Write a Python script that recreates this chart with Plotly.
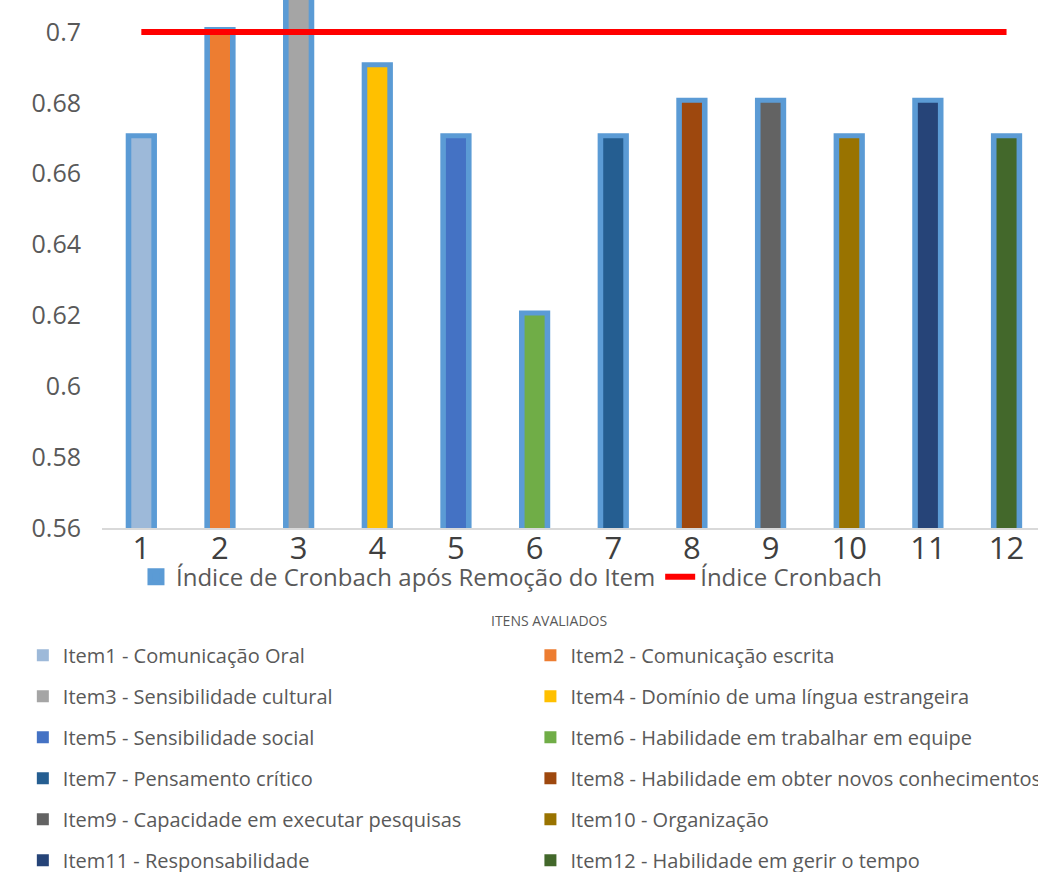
import plotly.graph_objects as go

# Cronbach's alpha recomputed after removing each item
item_numbers = [1, 2, 3, 4, 5, 6, 7, 8, 9, 10, 11, 12]
alpha_without_item = [0.67, 0.70, 0.71, 0.69, 0.67, 0.62, 0.67, 0.68, 0.68, 0.67, 0.68, 0.67]
alpha_overall = 0.70

item_names = [
    "Item1 - Comunicação Oral",
    "Item2 - Comunicação escrita",
    "Item3 - Sensibilidade cultural",
    "Item4 - Domínio de uma língua estrangeira",
    "Item5 - Sensibilidade social",
    "Item6 - Habilidade em trabalhar em equipe",
    "Item7 - Pensamento crítico",
    "Item8 - Habilidade em obter novos conhecimentos",
    "Item9 - Capacidade em executar pesquisas",
    "Item10 - Organização",
    "Item11 - Responsabilidade",
    "Item12 - Habilidade em gerir o tempo",
]
item_colors = [
    "#9DB9D9", "#ED7D31", "#A5A5A5", "#FFC000", "#4472C4", "#70AD47",
    "#255E91", "#9E480E", "#636363", "#997300", "#264478", "#43682B",
]

y_ticks = [0.56, 0.58, 0.60, 0.62, 0.64, 0.66, 0.68, 0.70]
y_tick_text = ["0.56", "0.58", "0.6", "0.62", "0.64", "0.66", "0.68", "0.7"]

FONT = "Open Sans"
OUTER = "#5B9BD5"

fig = go.Figure()

# blue framing bar for every item
fig.add_trace(go.Bar(
    x=item_numbers, y=alpha_without_item,
    name="Índice de Cronbach após Remoção do Item",
    marker=dict(color=OUTER, line=dict(color=OUTER, width=10)),
    width=0.27, legend="legend",
))

# coloured core bar for every item (two legend columns: odd / even items)
for i, (xv, yv, nm, col) in enumerate(zip(item_numbers, alpha_without_item, item_names, item_colors)):
    fig.add_trace(go.Bar(
        x=[xv], y=[yv], name=nm,
        marker=dict(color=col, line=dict(width=0)),
        width=0.255,
        legend="legend2" if i % 2 == 0 else "legend3",
        legendgroup=nm,
    ))

# overall Cronbach reference line
fig.add_trace(go.Scatter(
    x=item_numbers, y=[alpha_overall] * len(item_numbers),
    mode="lines", name="Índice Cronbach",
    line=dict(color="#FF0000", width=6),
    legend="legend",
))

fig.update_layout(
    width=1038, height=872,
    margin=dict(l=102, r=0, t=0, b=344, autoexpand=False),
    paper_bgcolor="white", plot_bgcolor="white",
    barmode="overlay",
    font=dict(family=FONT, color="#595959"),
    xaxis=dict(
        range=[0.5, 12.4], tickvals=item_numbers,
        ticktext=[str(v) for v in item_numbers],
        tickfont=dict(size=31, color="#3F3F3F"),
        showgrid=False, zeroline=False,
        showline=True, linecolor="#D9D9D9", linewidth=1.5,
        ticks="", automargin=False, ticklabelstandoff=-8,
    ),
    yaxis=dict(
        range=[0.56, 0.709], tickvals=y_ticks, ticktext=y_tick_text,
        tickfont=dict(size=25, color="#595959"),
        showgrid=False, zeroline=False, showline=False,
        ticks="", ticklabelstandoff=20, automargin=False,
    ),
    legend=dict(
        orientation="h", xref="container", yref="container",
        x=0.131, y=0.364, xanchor="left", yanchor="top",
        font=dict(size=24, color="#595959", family=FONT),
        bgcolor="rgba(0,0,0,0)", itemwidth=30,
    ),
    legend2=dict(
        orientation="v", xref="container", yref="container",
        x=0.022, y=0.271, xanchor="left", yanchor="top",
        font=dict(size=20, color="#595959", family=FONT),
        tracegroupgap=12, bgcolor="rgba(0,0,0,0)",
    ),
    legend3=dict(
        orientation="v", xref="container", yref="container",
        x=0.511, y=0.271, xanchor="left", yanchor="top",
        font=dict(size=20, color="#595959", family=FONT),
        tracegroupgap=12, bgcolor="rgba(0,0,0,0)",
    ),
    annotations=[dict(
        text="ITENS AVALIADOS", xref="paper", yref="paper",
        x=0.478, y=-0.176, xanchor="center", yanchor="middle",
        showarrow=False, font=dict(size=14, color="#595959", family=FONT),
    )],
    showlegend=True,
)

fig.write_html("out.html")
